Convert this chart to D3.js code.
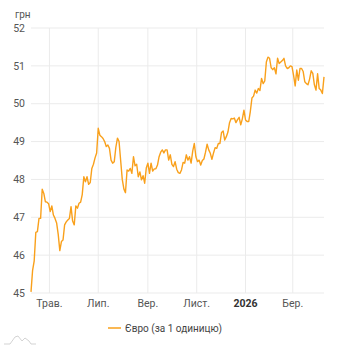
<!DOCTYPE html>
<html><head><meta charset="utf-8">
<script src="https://cdn.jsdelivr.net/npm/d3@7"></script>
<style>
html,body{margin:0;padding:0;background:#fff;}
svg{display:block;font-family:Roboto, "Noto Sans", sans-serif;}
</style></head>
<body><svg id="c" width="342" height="350"></svg>
<script>
const startDate = "2025-04-08";
const stepDays = 2;
const values = [45.03,45.6,45.85,46.6,46.62,46.97,46.97,47.74,47.63,47.41,47.4,47.36,47.15,47.3,47.06,46.97,46.85,46.55,46.12,46.36,
46.40,46.8,46.88,46.93,46.97,47.28,46.9,46.8,47.3,47.24,47.37,47.4,47.6,48.07,47.94,48.07,47.87,47.92,48.29,48.4,
48.57,48.7,49.35,49.17,49.13,49.08,49.0,48.87,48.91,48.82,48.51,48.43,48.47,48.85,49.09,49.0,48.5,48.0,47.75,47.65,
48.25,48.22,48.29,48.16,48.6,48.36,48.4,48.07,48.2,47.99,48.1,47.9,48.3,48.43,48.16,48.43,48.22,48.28,48.28,48.38,
48.6,48.72,48.78,48.7,48.78,48.78,48.51,48.65,48.4,48.34,48.47,48.27,48.18,48.16,48.25,48.45,48.43,48.65,48.51,48.6,
48.43,48.75,48.95,48.6,48.47,48.51,48.38,48.5,48.54,48.72,48.93,48.78,48.69,48.53,48.7,48.84,48.82,48.95,48.95,49.24,
49.28,49.04,49.13,49.25,49.5,49.61,49.6,49.62,49.5,49.58,49.64,49.44,49.6,49.83,49.57,49.53,49.53,49.8,50.15,50.2,
50.36,50.28,50.4,50.35,50.67,50.53,50.6,51.1,51.23,51.2,50.95,50.9,50.95,50.79,51.2,51.06,51.1,51.14,51.2,51.0,
50.93,50.95,51.0,50.98,50.75,50.47,50.89,50.62,50.93,50.93,50.85,50.58,50.53,50.5,50.65,50.87,50.8,50.5,50.36,50.79,
50.4,50.36,50.27,50.71];
const yTicks = [45,46,47,48,49,50,51,52];
const xTickDates = ["2025-05-01","2025-07-01","2025-09-01","2025-11-01","2026-01-01","2026-03-01"];
const xTickLabels = ["Трав.","Лип.","Вер.","Лист.","2026","Бер."];
const unitLabel = "грн";
const seriesName = "Євро (за 1 одиницю)";

const parse = d3.utcParse("%Y-%m-%d");
const t0 = parse(startDate);
const data = values.map((v,i)=>({d:d3.utcDay.offset(t0, i*stepDays), v}));

const svg = d3.select("#c");
const L=31, R=324, T=28, B=293;
const x = d3.scaleUtc().domain([t0, data[data.length-1].d]).range([L,R]);
const y = d3.scaleLinear().domain([45,52]).range([B,T]);

// horizontal grid + y labels
const gy = svg.append("g");
gy.selectAll("line").data(yTicks).join("line")
  .attr("x1",L).attr("x2",R).attr("y1",d=>y(d)).attr("y2",d=>y(d))
  .attr("stroke","#ebebeb").attr("stroke-width",1);
gy.selectAll("text").data(yTicks).join("text")
  .attr("x",25).attr("y",d=>y(d)).attr("dy","0.35em").attr("text-anchor","end")
  .attr("font-size",10.5).attr("fill","#555").text(d=>d);

// vertical grid + x labels
const xd = xTickDates.map(parse);
const gx = svg.append("g");
gx.selectAll("line").data(xd).join("line")
  .attr("x1",d=>x(d)).attr("x2",d=>x(d)).attr("y1",T).attr("y2",B)
  .attr("stroke","#ebebeb").attr("stroke-width",1);
gx.selectAll("text").data(xd).join("text")
  .attr("x",d=>x(d)).attr("y",307).attr("text-anchor","middle")
  .attr("font-size",10.5)
  .attr("font-weight",(d,i)=>xTickLabels[i]==="2026"?"bold":"normal")
  .attr("fill",(d,i)=>xTickLabels[i]==="2026"?"#333":"#555")
  .text((d,i)=>xTickLabels[i]);

svg.append("text").attr("x",15).attr("y",18).attr("font-size",10).attr("fill","#555").text(unitLabel);

// line
svg.append("path").datum(data)
  .attr("fill","none").attr("stroke","#f9a01b").attr("stroke-width",1.4)
  .attr("stroke-linejoin","round")
  .attr("d", d3.line().x(d=>x(d.d)).y(d=>y(d.v)));

// legend
svg.append("line").attr("x1",108).attr("x2",121).attr("y1",328).attr("y2",328)
  .attr("stroke","#f9a01b").attr("stroke-width",1.5);
svg.append("text").attr("x",125).attr("y",328).attr("dy","0.35em")
  .attr("font-size",10).attr("fill","#444").text(seriesName);

// small logo
svg.append("path")
  .attr("d","M4,344 L10,344 L15,337 L18,336 L22,341 L25,338 L29,341 L31,344 L36,344")
  .attr("fill","none").attr("stroke","#c8c8c8").attr("stroke-width",0.8);
</script></body></html>
